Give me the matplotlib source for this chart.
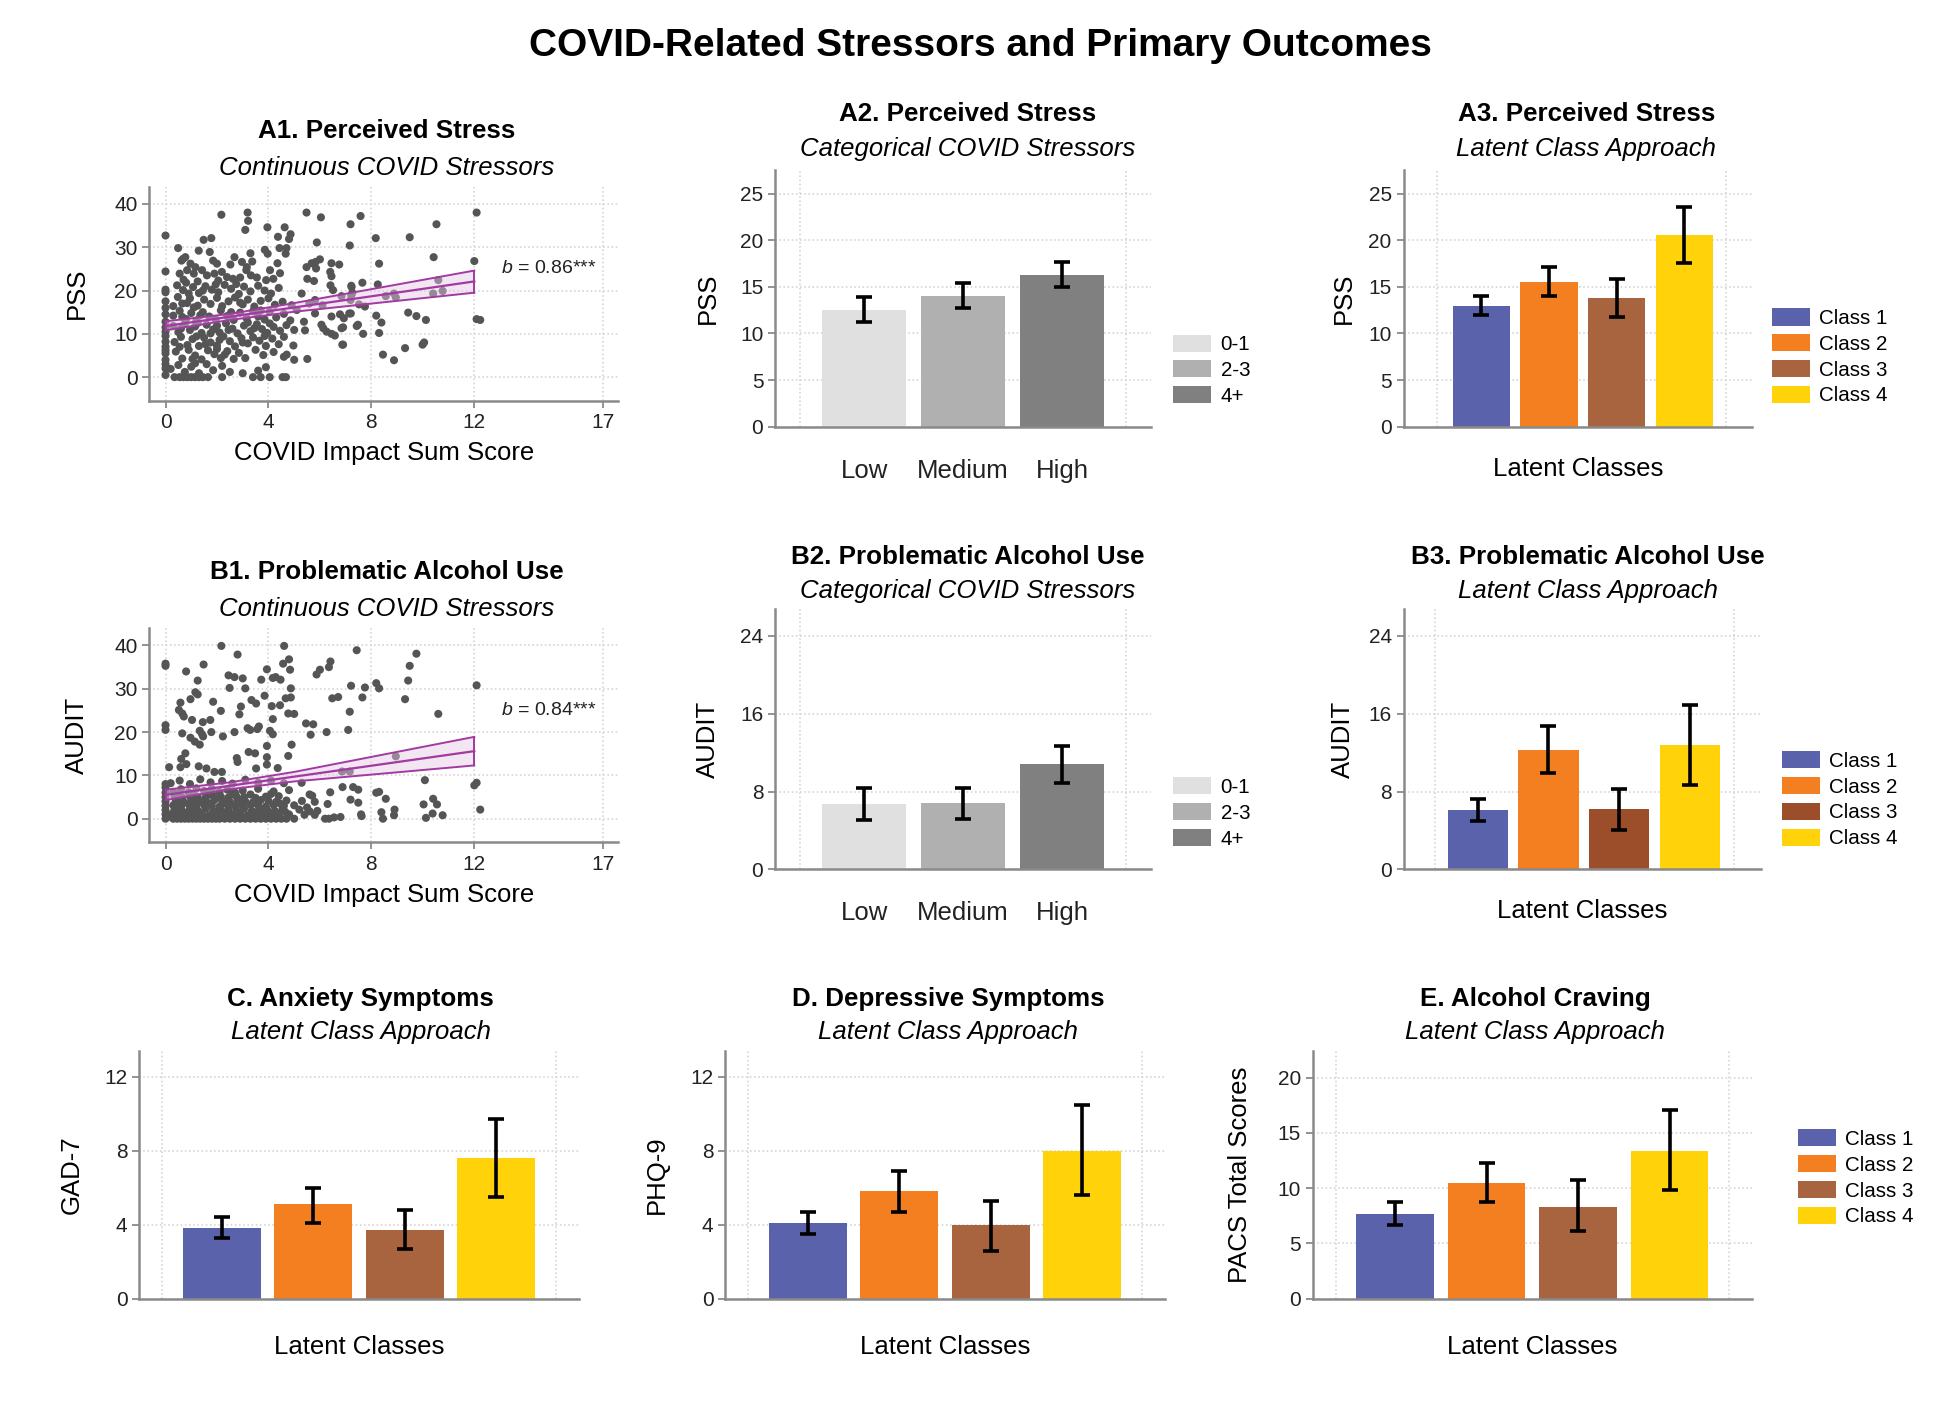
import matplotlib.pyplot as plt
from matplotlib.patches import Patch
import numpy as np

plt.rcParams['font.family'] = ['Liberation Sans', 'DejaVu Sans']
plt.rcParams['mathtext.fontset'] = 'custom'
plt.rcParams['mathtext.it'] = 'Liberation Sans:italic'
plt.rcParams['mathtext.rm'] = 'Liberation Sans'

# ---- data ----
class_labels = ['Class 1', 'Class 2', 'Class 3', 'Class 4']
class_colors = ['#5a62ab', '#f47f20', '#a8633f', '#ffd20a']
b3_colors = ['#5a62ab', '#f47f20', '#9c4e2a', '#ffd20a']
cat_labels = ['Low', 'Medium', 'High']
cat_legend = ['0-1', '2-3', '4+']
cat_colors = ['#e0e0e0', '#b0b0b0', '#808080']

# A2 / B2: categorical COVID stressors
pss_cat = [12.5, 14.0, 16.3]
pss_cat_lo = [11.2, 12.7, 15.0]
pss_cat_hi = [13.9, 15.4, 17.7]
audit_cat = [6.7, 6.8, 10.8]
audit_cat_lo = [5.1, 5.2, 8.9]
audit_cat_hi = [8.4, 8.4, 12.7]

# A3, B3, C, D, E: latent classes
pss_lc = [13.0, 15.5, 13.8, 20.6]
pss_lc_lo = [12.0, 14.0, 11.8, 17.6]
pss_lc_hi = [14.0, 17.1, 15.8, 23.6]
audit_lc = [6.1, 12.3, 6.2, 12.8]
audit_lc_lo = [5.0, 9.9, 4.1, 8.7]
audit_lc_hi = [7.2, 14.7, 8.3, 16.9]
gad_lc = [3.8, 5.1, 3.7, 7.6]
gad_lc_lo = [3.3, 4.1, 2.7, 5.5]
gad_lc_hi = [4.4, 6.0, 4.8, 9.7]
phq_lc = [4.1, 5.8, 4.0, 8.0]
phq_lc_lo = [3.5, 4.7, 2.6, 5.6]
phq_lc_hi = [4.7, 6.9, 5.3, 10.5]
pacs_lc = [7.7, 10.5, 8.3, 13.4]
pacs_lc_lo = [6.7, 8.7, 6.1, 9.8]
pacs_lc_hi = [8.7, 12.3, 10.7, 17.1]

# A1 / B1: continuous COVID impact score
pss_points = [
    (2.17, 37.5), (3.19, 38), (3.21, 36.1), (3.1, 34), (5.48, 38), (6.04, 36.9), (7.19, 35.3), (7.58, 37.2),
    (0, 32.7), (1.48, 31.7), (1.78, 32.1), (3.96, 34.6), (4.63, 34.6), (4.86, 33), (4.8, 31.9), (4.37, 32.4),
    (0.49, 29.8), (1.29, 29.2), (1.72, 28.9), (3.86, 29.4), (3.97, 28.5), (4.43, 29.8), (4.67, 28.5),
    (4.7, 29.8), (5.88, 31.1), (7.16, 30.4), (8.17, 32.1), (9.49, 32.3), (10.53, 35.3), (12.09, 38),
    (10.42, 27.7), (12.0, 26.8), (8.3, 26.2), (10.6, 22.4), (10.4, 19.3), (10.77, 19.9), (7.65, 21.8),
    (7.22, 21.1), (7.26, 19.5), (8.25, 21.4), (8.56, 18.7), (8.88, 19.3), (8.95, 18.4), (6.84, 18.7),
    (7.19, 17.8), (7.52, 16.8), (7.75, 16.3), (6.78, 14.5), (7.2, 14.7), (8.19, 14.2), (8.39, 12.6),
    (6.84, 11.3), (7.43, 11.8), (7.68, 10), (8.3, 10.2), (9.43, 14.9), (9.75, 14.1), (10.12, 13.2),
    (12.09, 13.4), (12.23, 13.2), (6.87, 7.5), (8.45, 5.2), (8.88, 3.9), (9.31, 6.7), (9.99, 7.5), (10.05, 8.0),
    (5.48, 25.4), (5.83, 26.6), (6.0, 27.2), (6.45, 26.3), (6.75, 26), (5.51, 22.7), (5.77, 22.2),
    (6.45, 23.3), (6.41, 21.2), (6.51, 20.1), (7.23, 20.8), (5.29, 19.3), (5.81, 17.8), (5.59, 17),
    (6.1, 16.6), (7.22, 18.9), (4.9, 16.6), (5.1, 15.5), (5.38, 12.8), (5.81, 14.7), (6.06, 12.1),
    (6.45, 14), (6.93, 13.6), (7.14, 14.7), (6.13, 11.3), (6.26, 10.5), (6.45, 10), (6.58, 9.6),
    (6.9, 11.5), (7.48, 12.1), (5.42, 10.8), (5.0, 10.9), (6.9, 7.5), (5.51, 4.2), (5.0, 4.0),
    (4.97, 7.3), (4.71, 5.2), (4.55, 0), (4.68, 0), (5.68, 26.3), (5.85, 25.1), (6.4, 24.3),
    (0, 0.5), (0, 2), (0, 4), (0, 5.5), (0, 7), (0, 8.2), (0, 9.5), (0, 10.5), (0, 11.5), (0, 12.8),
    (0, 14.5), (0, 17.5), (0, 19.6), (0, 20.2), (0, 24.4), (0, 16), (0, 6.2), (0, 3),
    (0.55, 23.9), (0.84, 24.7), (1.1, 23.9), (1.42, 24.7), (1.61, 23.5), (1.9, 23.9), (2.19, 24.3),
    (2.39, 23.1), (2.62, 22.7), (2.9, 23.0), (3.14, 24.7), (3.32, 23.5), (3.55, 23.0), (3.91, 22.4),
    (4.19, 22.7), (0.7, 22.5), (1.25, 22.1), (2.05, 22.3), (4.45, 24.0), (2.68, 27.7), (2.52, 26),
    (2.97, 26.6), (3.16, 25.4), (3.3, 28.6), (3.37, 26.7), (4.35, 26.3), (4.06, 24.7), (0.68, 27.3),
    (0.62, 26.9), (0.77, 27.7), (0.97, 26.2), (1.16, 25.4), (1.85, 26.9), (2.0, 26.2),
    (0.45, 21.2), (0.68, 20.1), (1.07, 20.8), (1.3, 19.4), (1.55, 21.0), (1.8, 20.2), (2.05, 19.6),
    (2.3, 21.3), (2.55, 20.4), (2.85, 19.2), (3.05, 20.9), (3.3, 19.8), (3.6, 21.1), (3.85, 20.0),
    (4.1, 19.3), (4.4, 20.6), (0.9, 19.3), (1.95, 21.4), (2.75, 21.5), (0.8, 21.8), (1.45, 20.0),
    (0.48, 18.5), (0.84, 17.1), (0.95, 18.2), (1.25, 16.5), (1.5, 17.9), (1.75, 16.9), (2.0, 18.3),
    (2.2, 16.4), (2.45, 17.5), (2.7, 18.4), (3.0, 16.8), (3.2, 17.9), (3.45, 16.3), (3.7, 17.6),
    (4.0, 18.2), (4.25, 16.7), (4.55, 17.4), (0.3, 16.4), (1.1, 16.1), (2.9, 17.2), (0.65, 17.0),
    (0.3, 14.2), (0.55, 15.3), (0.8, 13.4), (1.0, 14.8), (1.2, 13.1), (1.45, 15.0), (1.7, 14.0),
    (1.95, 13.3), (2.15, 15.4), (2.4, 14.1), (2.65, 13.2), (2.9, 14.9), (3.15, 13.6), (3.4, 15.2),
    (3.6, 14.0), (3.85, 13.3), (4.05, 15.1), (4.3, 13.8), (4.6, 14.6), (4.85, 13.1), (0.65, 13.9),
    (1.35, 14.3), (2.55, 15.0), (3.7, 15.4),
    (0.3, 11.8), (0.5, 10.4), (0.75, 12.3), (0.95, 10.9), (1.15, 11.7), (1.4, 10.2), (1.6, 12.1),
    (1.85, 11.0), (2.1, 10.3), (2.35, 12.4), (2.6, 11.2), (2.8, 10.1), (3.05, 11.9), (3.3, 10.6),
    (3.55, 12.2), (3.75, 11.1), (3.95, 10.2), (4.2, 11.6), (4.45, 10.7), (4.7, 12.0), (1.25, 12.5),
    (2.0, 11.9), (3.45, 11.3), (4.05, 12.4), (0.6, 11.2), (1.75, 10.1), (2.45, 10.9), (3.2, 12.6),
    (0.35, 8.1), (0.6, 9.3), (0.85, 7.4), (1.05, 8.8), (1.3, 7.2), (1.5, 9.1), (1.75, 8.0), (2.0, 7.3),
    (2.25, 9.4), (2.5, 8.3), (2.7, 7.1), (2.95, 9.0), (3.2, 7.8), (3.4, 9.2), (3.65, 8.4), (3.9, 7.2),
    (4.15, 8.9), (4.4, 7.6), (4.6, 9.3), (1.2, 9.4), (2.1, 8.6), (3.0, 8.0), (3.85, 9.5),
    (0.4, 5.9), (0.65, 4.3), (0.9, 6.3), (1.15, 5.0), (1.4, 4.1), (1.65, 6.2), (1.9, 5.3), (2.15, 4.4),
    (2.4, 6.0), (2.65, 4.2), (2.85, 5.6), (3.1, 4.4), (3.5, 6.3), (3.8, 5.1), (4.2, 5.8), (4.6, 4.7),
    (1.05, 4.2), (2.0, 6.5), (0.55, 7.0), (1.55, 7.6), (2.3, 5.2),
    (0.2, 1.9), (0.5, 2.8), (0.75, 1.2), (1.0, 2.4), (1.3, 0.9), (1.6, 3.0), (1.85, 1.6), (2.5, 1.2),
    (3.0, 0.9), (3.6, 1.5), (3.9, 2.3), (1.15, 3.2), (2.2, 2.6),
    (0.35, 0), (0.55, 0), (0.7, 0), (0.85, 0), (1.0, 0), (1.15, 0), (1.3, 0), (1.45, 0), (1.65, 0),
    (2.2, 0), (3.4, 0), (3.7, 0), (4.05, 0),
]

audit_points = [
    (2.17, 39.9), (4.61, 39.9), (2.8, 37.9), (0, 35.8), (0, 35.3), (0.8, 34), (1.48, 35.6), (2.45, 33.1),
    (2.68, 32.7), (3.0, 32.4), (1.25, 31.9), (3.94, 34.5), (4.17, 32.5), (4.28, 32.7), (4.47, 32.1),
    (3.72, 32.1), (4.57, 35.8), (4.8, 36.8), (4.84, 34.4), (4.87, 30.1), (3.1, 30.1), (2.49, 30.2),
    (1.16, 29.2), (1.25, 28.7), (0.97, 27.6), (3.85, 28.4), (4.67, 27.8), (4.87, 28.0), (1.85, 27),
    (0.58, 26.8), (0.52, 25.1), (0.65, 24.3), (0.71, 23.6), (3.34, 27.4), (3.52, 26.6), (4.13, 26),
    (4.45, 26.2), (2.93, 25.9), (2.87, 24.1), (2.15, 24.9), (4.77, 24.3), (5.0, 24.2), (1.03, 22.8),
    (1.45, 22.3), (1.74, 22.8), (4.17, 23), (0.65, 19.7), (1.33, 20.3), (1.42, 19.5), (1.78, 20),
    (2.23, 19), (2.68, 20), (3.19, 20.9), (3.29, 20.5), (3.63, 21.3), (3.57, 20.7), (4.06, 20.3),
    (4.17, 19.5), (0, 21.6), (0, 20.5), (0.97, 18.7), (1.14, 17.8), (1.33, 17.1), (1.46, 19),
    (4.77, 14.5), (4.9, 17.1), (3.94, 16.8), (3.23, 15.4), (3.48, 15.1), (2.77, 14), (2.8, 13.1),
    (3.94, 14.2), (0.61, 13.8), (0.77, 15.1), (0.81, 12.6), (0.58, 11.9), (0.14, 11.9), (1.29, 12.1),
    (1.59, 11.6), (3.52, 11.6), (3.94, 12.5), (4.36, 11.7), (1.9, 10.8), (2.19, 10.8), (5.29, 8.3),
    (5.46, 22.0), (5.74, 21.8), (5.64, 19.4), (6.26, 20), (6.41, 36.3), (6.35, 35.0), (5.87, 33.3),
    (6.0, 34.4), (7.21, 30.7), (6.48, 27.8), (6.71, 28.1), (7.16, 24.7), (7.1, 20.5), (6.86, 10.9),
    (7.16, 10.9), (6.88, 7.3), (7.19, 4.4), (7.29, 7.3), (7.43, 38.9), (9.75, 38.1), (9.49, 35.3),
    (9.43, 31.9), (8.19, 31.3), (8.3, 30.1), (7.75, 30.3), (7.65, 28), (9.31, 27.6), (12.09, 30.8),
    (10.6, 24.2), (8.95, 14.4), (7.49, 6.7), (8.19, 6.0), (8.3, 6.2), (8.56, 4.6), (7.49, 3.7),
    (7.6, 1.0), (7.62, 0.6), (8.39, 1.5), (8.45, 0), (8.9, 2.1), (8.88, 0.8), (10.08, 8.9), (10.03, 3.3),
    (10.4, 4.6), (10.55, 3.3), (10.12, 0.2), (10.38, 1.2), (10.77, 0.8), (12.0, 7.7), (12.09, 8.3),
    (12.23, 2.1), (6.2, 0), (6.35, 0), (6.55, 0.3), (6.8, 0.4), (5.9, 1.8), (5.5, 2.6), (6.3, 3.4),
    (5.7, 5.3), (6.4, 6.1), (5.3, 4.1), (5.8, 0.9),
    (0, 0), (0, 1), (0, 2), (0, 3), (0, 4), (0, 5), (0, 6), (0, 7.2), (0, 8),
    (0.3, 0), (0.45, 0), (0.6, 0), (0.75, 0), (0.9, 0), (1.05, 0), (1.2, 0), (1.35, 0), (1.5, 0),
    (1.65, 0), (1.8, 0), (1.95, 0), (2.1, 0), (2.3, 0), (2.5, 0), (2.7, 0), (2.9, 0), (3.1, 0),
    (3.3, 0), (3.5, 0), (3.7, 0), (3.9, 0), (4.1, 0), (4.3, 0), (4.5, 0), (4.7, 0), (5.0, 0),
    (0.25, 1.1), (0.5, 0.8), (0.8, 1.3), (1.1, 0.9), (1.4, 1.2), (1.7, 0.8), (2.0, 1.1), (2.3, 1.3),
    (2.6, 0.9), (2.9, 1.2), (3.2, 0.8), (3.5, 1.1), (3.8, 1.3), (4.1, 0.9), (4.4, 1.2), (4.8, 1.0),
    (5.4, 0.9),
    (0.35, 2.1), (0.65, 1.8), (0.95, 2.2), (1.25, 1.9), (1.55, 2.3), (1.85, 1.8), (2.15, 2.1),
    (2.45, 2.2), (2.75, 1.9), (3.05, 2.3), (3.35, 1.8), (3.65, 2.2), (3.95, 2.0), (4.25, 1.8),
    (4.55, 2.3), (5.2, 2.1), (5.6, 1.7),
    (0.3, 3.1), (0.6, 2.8), (0.9, 3.3), (1.2, 2.9), (1.5, 3.2), (1.8, 3.0), (2.1, 2.8), (2.4, 3.3),
    (2.7, 3.0), (3.0, 2.9), (3.3, 3.2), (3.6, 3.1), (3.9, 2.8), (4.2, 3.2), (4.6, 3.0), (5.0, 3.1),
    (0.4, 4.1), (0.7, 3.9), (1.0, 4.2), (1.3, 4.0), (1.6, 3.8), (1.9, 4.3), (2.2, 4.1), (2.5, 3.9),
    (2.8, 4.2), (3.1, 4.0), (3.4, 3.8), (3.7, 4.3), (4.0, 4.1), (4.3, 3.9), (4.7, 4.2), (5.8, 3.9),
    (0.35, 5.1), (0.65, 4.9), (0.95, 5.2), (1.25, 5.0), (1.55, 4.8), (1.85, 5.3), (2.15, 5.1),
    (2.45, 4.9), (2.75, 5.2), (3.05, 5.0), (3.5, 4.8), (3.9, 5.1), (4.4, 5.2), (5.6, 5.6),
    (0.3, 6.2), (0.6, 6.8), (0.9, 6.1), (1.2, 7.0), (1.5, 6.4), (1.8, 6.9), (2.1, 6.2), (2.4, 6.7),
    (2.7, 6.0), (3.0, 6.5), (3.6, 6.9), (4.2, 6.3), (4.8, 6.6),
    (0.2, 8.2), (0.55, 8.8), (0.95, 8.0), (1.35, 9.1), (1.75, 8.4), (2.2, 8.7), (2.6, 8.1), (3.1, 9.0),
    (3.6, 8.3), (4.1, 8.8), (4.6, 8.2),
    (0.15, 0.5), (0.55, 0.4), (1.0, 0.5), (1.6, 0.4), (2.4, 0.5), (3.0, 0.4), (3.6, 0.5), (4.2, 0.4),
    (0.45, 1.6), (1.2, 1.5), (1.95, 1.6), (2.8, 1.5), (3.4, 1.6), (4.05, 1.5), (4.65, 1.6),
    (0.5, 3.5), (1.05, 3.6), (1.7, 3.5), (2.3, 3.6), (2.95, 3.5), (3.5, 3.6), (4.45, 3.5),
    (0.5, 5.6), (1.1, 5.7), (1.7, 5.6), (2.6, 5.7), (3.3, 5.6), (4.1, 5.7),
]

# fitted line and 95% CI band (endpoints)
pss_fit_x = [0, 12]
pss_fit_y = [11.8, 22.1]
pss_ci_x = [0, 2.5, 5, 12]
pss_ci_lo = [10.8, 13.2, 15.1, 19.5]
pss_ci_hi = [12.9, 14.6, 17.1, 24.6]
audit_fit_x = [0, 12]
audit_fit_y = [5.5, 15.6]
audit_ci_x = [0, 2.5, 5, 12]
audit_ci_lo = [4.3, 6.8, 8.6, 12.3]
audit_ci_hi = [6.7, 8.4, 10.8, 18.9]

# ---- layout helpers (reference pixel coords of the 1568x1140 preview) ----
W, H = 1568, 1140
axis_grey = '#8a8a8a'
grid_grey = '#d6d6d6'
purple = '#a23aa2'


def rect(l, r, t, b):
    return [l / W, 1 - b / H, (r - l) / W, (b - t) / H]


fig = plt.figure(figsize=(19.51, 14.18), dpi=100)
fig.text(788 / W, 1 - 37 / H, 'COVID-Related Stressors and Primary Outcomes', ha='center', va='center',
         fontsize=28, fontweight='bold')


def style_axes(ax):
    for s in ['top', 'right']:
        ax.spines[s].set_visible(False)
    for s in ['left', 'bottom']:
        ax.spines[s].set_color(axis_grey)
        ax.spines[s].set_linewidth(1.8)
    ax.tick_params(colors=axis_grey, labelcolor='#222222', labelsize=15, width=1.3, length=5)
    ax.set_axisbelow(True)


def titles(cx, ty, sy, title, sub):
    fig.text(cx / W, 1 - ty / H, title, ha='center', va='center', fontsize=18.7, fontweight='bold')
    fig.text(cx / W, 1 - sy / H, sub, ha='center', va='center', fontsize=18.5, style='italic')


def scatter_panel(pos, pts, fit_x, fit_y, ci_x, ci_lo, ci_hi, ylabel, note):
    ax = fig.add_axes(pos)
    style_axes(ax)
    pts = np.array(pts)
    ax.grid(True, color=grid_grey, linestyle=(0, (1, 1.5)), linewidth=1.2)
    ax.scatter(pts[:, 0], pts[:, 1], s=34, color='#555555', edgecolors='none', zorder=3)
    ax.fill_between(ci_x, ci_lo, ci_hi, color='#e6c8e6', alpha=0.45, zorder=4, linewidth=0)
    ax.plot(ci_x, ci_lo, color=purple, lw=1.4, zorder=5)
    ax.plot(ci_x, ci_hi, color=purple, lw=1.4, zorder=5)
    ax.plot([ci_x[0], ci_x[0]], [ci_lo[0], ci_hi[0]], color=purple, lw=1.4, zorder=5)
    ax.plot([ci_x[-1], ci_x[-1]], [ci_lo[-1], ci_hi[-1]], color=purple, lw=1.4, zorder=5)
    ax.plot(fit_x, fit_y, color=purple, lw=1.6, zorder=5)
    ax.set_xlim(-0.63, 17.6)
    ax.set_ylim(-5.4, 44)
    ax.set_xticks([0, 4, 8, 12, 17])
    ax.set_yticks([0, 10, 20, 30, 40])
    ax.tick_params(axis='x', pad=4)
    ax.set_xlabel('COVID Impact Sum Score', fontsize=18.5)
    ax.xaxis.set_label_coords(0.5, -0.245)
    ax.xaxis.label.set_va('center')
    ax.set_ylabel(ylabel, fontsize=18.5)
    ax.yaxis.set_label_coords(-0.155, 0.5)
    ax.yaxis.label.set_va('center')
    ax.text(13.05, 25, note, fontsize=14, va='center', color='#222222')
    return ax


def bar_panel(pos, x, vals, lo, hi, colors, xlim, vgrid, ylim, yticks, ylabel, ylab_x,
              legend_labels, leg_xy, ticklabels=None, xlabel=None, xlab_y=None):
    ax = fig.add_axes(pos)
    style_axes(ax)
    ax.grid(axis='y', color=grid_grey, linestyle=(0, (1, 1.5)), linewidth=1.2)
    for g in vgrid:
        ax.axvline(g, color=grid_grey, linestyle=(0, (1, 1.5)), linewidth=1.2, zorder=0)
    vals = np.array(vals)
    err = [vals - np.array(lo), np.array(hi) - vals]
    ax.bar(x, vals, width=0.85, color=colors, edgecolor='none', zorder=2)
    ax.errorbar(x, vals, yerr=err, fmt='none', ecolor='black', elinewidth=2.6, capsize=5.5,
                capthick=2.6, zorder=3)
    ax.set_xlim(*xlim)
    ax.set_ylim(*ylim)
    ax.set_yticks(yticks)
    if ticklabels is not None:
        ax.set_xticks(x)
        ax.set_xticklabels(ticklabels)
        ax.tick_params(axis='x', length=0, pad=23, labelsize=18.5)
    else:
        ax.set_xticks([])
    if xlabel is not None:
        ax.set_xlabel(xlabel, fontsize=18.5)
        ax.xaxis.set_label_coords(0.5, xlab_y)
        ax.xaxis.label.set_va('center')
    ax.set_ylabel(ylabel, fontsize=18.5)
    ax.yaxis.set_label_coords(ylab_x, 0.5)
    ax.yaxis.label.set_va('center')
    handles = [Patch(facecolor=c, edgecolor='none') for c in colors]
    ax.legend(handles, legend_labels, loc='upper left', bbox_to_anchor=(leg_xy[0] / W, 1 - leg_xy[1] / H),
              bbox_transform=fig.transFigure, frameon=False, fontsize=14.8, handlelength=1.85,
              handleheight=0.9, labelspacing=0.3, handletextpad=0.45, borderpad=0, borderaxespad=0)
    return ax


cats = [0, 1, 2]
classes = [1, 2, 3, 4]

# row A
scatter_panel(rect(120, 497, 150, 322), pss_points, pss_fit_x, pss_fit_y,
              pss_ci_x, pss_ci_lo, pss_ci_hi, 'PSS', r'$\it{b}$ = 0.86***')
titles(311, 105, 135, 'A1. Perceived Stress', 'Continuous COVID Stressors')

bar_panel(rect(623, 925, 137, 343), cats, pss_cat, pss_cat_lo, pss_cat_hi, cat_colors, (-0.9, 2.9),
          [-0.65, 2.65], (0, 27.5), [0, 5, 10, 15, 20, 25], 'PSS', -0.18, cat_legend, (943, 269),
          ticklabels=cat_labels)
titles(778, 92, 120, 'A2. Perceived Stress', 'Categorical COVID Stressors')

bar_panel(rect(1128, 1408, 137, 343), classes, pss_lc, pss_lc_lo, pss_lc_hi, class_colors, (-0.15, 5.0),
          [0.35, 4.62], (0, 27.5), [0, 5, 10, 15, 20, 25], 'PSS', -0.17, class_labels, (1424, 248),
          xlabel='Latent Classes', xlab_y=-0.165)
titles(1275, 92, 120, 'A3. Perceived Stress', 'Latent Class Approach')

# row B
scatter_panel(rect(120, 497, 505, 677), audit_points, audit_fit_x, audit_fit_y,
              audit_ci_x, audit_ci_lo, audit_ci_hi, 'AUDIT', r'$\it{b}$ = 0.84***')
titles(311, 460, 490, 'B1. Problematic Alcohol Use', 'Continuous COVID Stressors')

bar_panel(rect(623, 925, 490, 699), cats, audit_cat, audit_cat_lo, audit_cat_hi, cat_colors, (-0.9, 2.9),
          [-0.65, 2.65], (0, 26.7), [0, 8, 16, 24], 'AUDIT', -0.18, cat_legend, (943, 625),
          ticklabels=cat_labels)
titles(778, 448, 475, 'B2. Problematic Alcohol Use', 'Categorical COVID Stressors')

bar_panel(rect(1128, 1415, 490, 699), classes, audit_lc, audit_lc_lo, audit_lc_hi, b3_colors, (-0.05, 5.0),
          [0.4, 4.62], (0, 26.7), [0, 8, 16, 24], 'AUDIT', -0.17, class_labels, (1432, 604),
          xlabel='Latent Classes', xlab_y=-0.16)
titles(1276, 448, 475, 'B3. Problematic Alcohol Use', 'Latent Class Approach')

# row C
bar_panel(rect(112, 465, 845, 1044), classes, gad_lc, gad_lc_lo, gad_lc_hi, class_colors, (0.1, 4.9),
          [0.35, 4.65], (0, 13.4), [0, 4, 8, 12], 'GAD-7', -0.155, [], (0, 0),
          xlabel='Latent Classes', xlab_y=-0.197)
titles(290, 803, 830, 'C. Anxiety Symptoms', 'Latent Class Approach')

bar_panel(rect(583, 936, 845, 1044), classes, phq_lc, phq_lc_lo, phq_lc_hi, class_colors, (0.1, 4.9),
          [0.35, 4.65], (0, 13.4), [0, 4, 8, 12], 'PHQ-9', -0.155, [], (0, 0),
          xlabel='Latent Classes', xlab_y=-0.197)
titles(762, 803, 830, 'D. Depressive Symptoms', 'Latent Class Approach')

bar_panel(rect(1055, 1408, 845, 1044), classes, pacs_lc, pacs_lc_lo, pacs_lc_hi, class_colors, (0.1, 4.9),
          [0.35, 4.65], (0, 22.4), [0, 5, 10, 15, 20], 'PACS Total Scores', -0.165, class_labels, (1445, 908),
          xlabel='Latent Classes', xlab_y=-0.197)
titles(1234, 803, 830, 'E. Alcohol Craving', 'Latent Class Approach')

fig.savefig('out.png', dpi=100, facecolor='white')
